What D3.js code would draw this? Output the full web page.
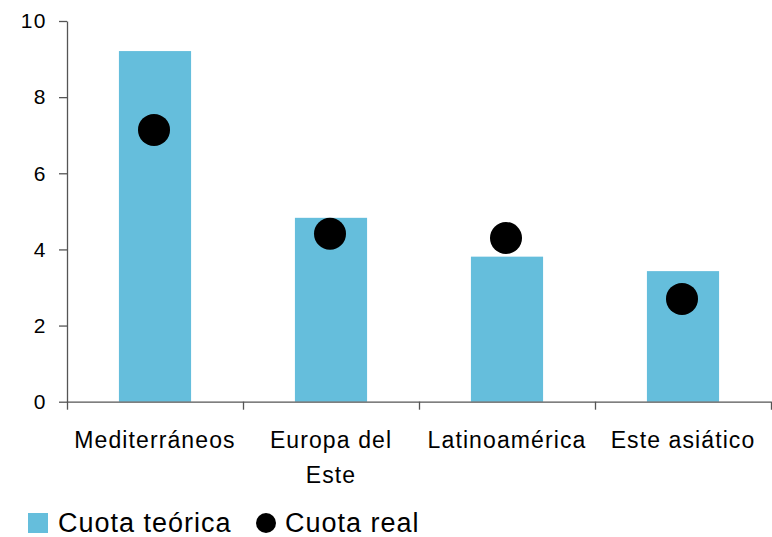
<!DOCTYPE html>
<html>
<head>
<meta charset="utf-8">
<script src="https://cdn.jsdelivr.net/npm/d3@7"></script>
<style>
  body { margin: 0; background: #fff; }
  text { font-family: "Liberation Sans", Arial, sans-serif; fill: #000; }
  .axis path, .axis line { stroke: #555; stroke-width: 1.3; }
</style>
</head>
<body>
<div id="chart"><svg></svg></div>
<script>
// datos
var categorias = ["Mediterráneos", "Europa del Este", "Latinoamérica", "Este asiático"];
var cuotaTeorica = [9.21, 4.83, 3.81, 3.43];
var cuotaReal = [7.14, 4.41, 4.30, 2.70];
var yTicks = [0, 2, 4, 6, 8, 10];
var series = ["Cuota teórica", "Cuota real"];

var W = 772, H = 537;
var L = 67, R = 1, T = 21, B = 136;
var azul = "#65bedc";

var svg = d3.select("#chart svg")
    .attr("width", W)
    .attr("height", H);

var x = d3.scaleBand()
    .domain(categorias)
    .range([L, W - R])
    .paddingInner(0.59)
    .paddingOuter(0.295);

// para las marcas entre categorias
var xEdges = d3.scaleLinear()
    .domain([0, categorias.length])
    .range([L, W - R]);

var y = d3.scaleLinear()
    .domain([0, 10])
    .range([H - B + 0.7, T]);

// barras
svg.append("g").attr("class", "data")
    .selectAll("rect").data(cuotaTeorica)
    .enter().append("rect")
    .attr("x", function(d, i) { return x(categorias[i]); })
    .attr("width", x.bandwidth())
    .attr("y", function(d) { return y(d); })
    .attr("height", function(d) { return y(0) - y(d); })
    .attr("fill", azul);

// puntos
svg.append("g").attr("class", "dots")
    .selectAll("circle").data(cuotaReal)
    .enter().append("circle")
    .attr("cx", function(d, i) { return x(categorias[i]) + x.bandwidth() / 2 - 1; })
    .attr("cy", function(d) { return y(d); })
    .attr("r", 16)
    .attr("fill", "#000");

// eje y
var gy = svg.append("g")
    .attr("class", "y-axis axis")
    .attr("transform", "translate(" + L + ",0)")
    .call(d3.axisLeft(y).tickValues(yTicks).tickSize(8).tickPadding(12).tickSizeOuter(0));
gy.selectAll("text")
    .style("font-size", "21px")
    .style("letter-spacing", "1.5px");

// eje x
var gx = svg.append("g")
    .attr("class", "x-axis axis")
    .attr("transform", "translate(0," + y(0) + ")")
    .call(d3.axisBottom(xEdges).tickValues(d3.range(categorias.length + 1)).tickFormat("").tickSize(8).tickSizeOuter(0));

// etiquetas de categorias
var labels = svg.append("g").attr("class", "x-labels")
    .selectAll("text").data(categorias)
    .enter().append("text")
    .attr("x", function(d) { return x(d) + x.bandwidth() / 2; })
    .attr("y", y(0) + 46)
    .attr("text-anchor", "middle")
    .style("font-size", "23px")
    .style("letter-spacing", "1.1px")
    .text(function(d) { return d; });

labels.each(function(d) {
    var t = d3.select(this);
    if (this.getComputedTextLength() <= x.step() - 4) return;
    var words = d.split(" ");
    var line = [], lineNo = 0;
    var cx = t.attr("x");
    t.text(null);
    var tspan = t.append("tspan").attr("x", cx).attr("dy", 0);
    words.forEach(function(w) {
        line.push(w);
        tspan.text(line.join(" "));
        if (tspan.node().getComputedTextLength() > x.step() - 4 && line.length > 1) {
            line.pop();
            tspan.text(line.join(" "));
            line = [w];
            lineNo++;
            tspan = t.append("tspan").attr("x", cx).attr("dy", 35).text(w);
        }
    });
});

// leyenda
var leg = svg.append("g").attr("class", "legend");
leg.append("rect")
    .attr("x", 28).attr("y", 513)
    .attr("width", 20).attr("height", 20)
    .attr("fill", azul);
leg.append("text")
    .attr("x", 58).attr("y", 532)
    .style("font-size", "27px")
    .style("letter-spacing", "1px")
    .text(series[0]);
leg.append("circle")
    .attr("cx", 266).attr("cy", 523)
    .attr("r", 10)
    .attr("fill", "#000");
leg.append("text")
    .attr("x", 285).attr("y", 532)
    .style("font-size", "27px")
    .style("letter-spacing", "1px")
    .text(series[1]);
</script>
</body>
</html>
